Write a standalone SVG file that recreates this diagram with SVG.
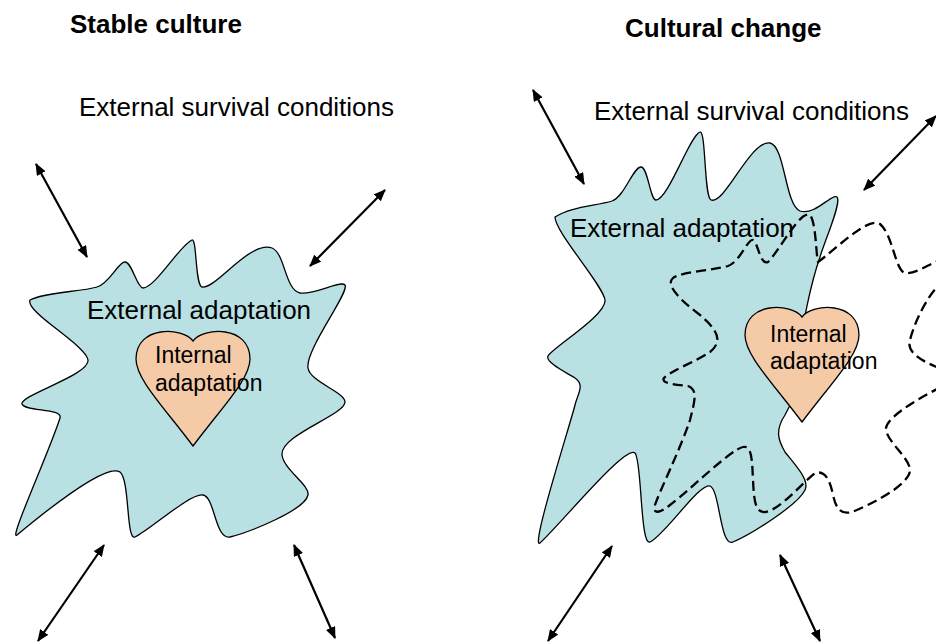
<svg xmlns="http://www.w3.org/2000/svg" width="936" height="642" viewBox="0 0 936 642">
<style>
.t{font-family:"Liberation Sans",Arial,sans-serif;fill:#000}
.title{font-size:26px;font-weight:bold}
.lbl{font-size:26px}
.small{font-size:23px}
.blob{fill:#B9E0E3;stroke:#000;stroke-width:1.3}
.heart{fill:#F5CAA6;stroke:#000;stroke-width:1.3}
.dash{fill:none;stroke:#000;stroke-width:2.3;stroke-dasharray:10,5}
.arr{stroke:#000;stroke-width:2.2;fill:none;marker-start:url(#ah);marker-end:url(#ah)}
</style>
<defs>
<marker id="ah" markerUnits="userSpaceOnUse" markerWidth="12" markerHeight="10" refX="11" refY="5" orient="auto-start-reverse" viewBox="0 0 12 10">
<path d="M0,0 L12,5 L0,10 Z" fill="#000"/>
</marker>
<path id="heartShape" d="M0,0 C-10,-14 -57,-16 -57,18 C-57,38 -30,65 0,105 C30,65 57,38 57,18 C57,-16 10,-14 0,0 Z"/>
</defs>
<rect width="936" height="642" fill="#fff"/>

<g id="stable-culture">
<text class="t title" x="70" y="33">Stable culture</text>
<text class="t lbl" x="79" y="116">External survival conditions</text>
</g>

<g id="left-external-adaptation">
<path class="blob" d="M30,300 C45,292 80,292 97,287 C110,283 118,262 125,262 C132,262 137,288 143,288 C155,288 180,245 192,240 C197,238 195,285 202,287 C215,290 250,240 272,248 C285,253 285,290 300,293 C315,295 340,280 345,285 C350,292 305,350 308,368 C310,382 345,392 345,402 C345,415 280,435 282,455 C284,470 310,485 308,495 C305,510 250,532 230,537 C215,540 215,497 203,495 C190,493 150,530 135,537 C126,541 130,480 120,472 C105,462 35,520 17,535 C8,542 50,450 60,418 C63,408 25,412 22,404 C20,395 90,375 88,360 C86,345 25,312 30,300 Z"/>
<text class="t lbl" x="87" y="319">External adaptation</text>
</g>

<g id="left-internal-adaptation">
<use href="#heartShape" class="heart" transform="translate(193,341)"/>
<text class="t small" x="155" y="363">Internal</text>
<text class="t small" x="155" y="391">adaptation</text>
</g>

<g id="cultural-change">
<text class="t title" x="625" y="37">Cultural change</text>
<text class="t lbl" x="594" y="120">External survival conditions</text>
</g>

<g id="right-external-adaptation">
<path class="blob" d="M555,217 C570,207 595,206 612,201 C625,196 633,167 641,167 C648,167 650,200 656,200 C668,200 690,135 700,132 C706,130 704,197 711,200 C725,205 750,140 770,143 C785,146 785,205 800,211 C815,216 832,193 837,197 C842,202 825,240 820,257 C812,280 800,330 800,360 C800,390 790,405 785,415 C775,430 778,440 785,452 C795,465 810,480 805,490 C798,505 750,535 733,542 C720,548 720,490 710,486 C700,482 665,535 650,542 C640,546 642,460 635,453 C625,445 560,525 540,543 C530,550 570,425 575,405 C578,393 585,385 575,378 C565,372 545,362 548,356 C552,348 607,315 605,300 C603,285 555,232 555,217 Z"/>
<text class="t lbl" x="570" y="237">External adaptation</text>
</g>

<g id="new-adaptation-dashed">
<path class="dash" d="M945,258 C930,263 915,275 905,273 C895,270 893,235 880,224 C868,216 835,250 818,262 C816,255 816,222 810,215 C800,210 780,250 768,262 C760,266 758,242 753,240 C748,238 740,262 728,266 C715,270 680,272 673,278 C665,285 680,300 700,315 C715,328 725,340 710,352 C695,362 672,370 664,378 C660,384 680,385 688,386 C698,390 695,400 690,420 C680,450 660,490 655,505 C652,515 660,513 670,505 C690,490 730,450 743,447 C752,445 752,460 753,480 C754,500 755,513 765,512 C780,510 800,485 815,473 C825,470 830,480 833,495 C836,508 840,515 852,512 C870,505 910,485 910,470 C910,458 885,440 886,428 C888,415 925,395 945,385 L950,385 L950,372 C930,365 905,355 910,340 C915,320 930,290 945,280 Z"/>
</g>

<g id="right-internal-adaptation">
<use href="#heartShape" class="heart" transform="translate(802,317)"/>
<text class="t small" x="770" y="342">Internal</text>
<text class="t small" x="770" y="369">adaptation</text>
</g>

<g id="connectors">
<line class="arr" x1="36" y1="164" x2="87" y2="257"/>
<line class="arr" x1="385" y1="190" x2="310" y2="266"/>
<line class="arr" x1="104" y1="545" x2="38" y2="641"/>
<line class="arr" x1="294" y1="545" x2="335" y2="638"/>
<line class="arr" x1="533" y1="90" x2="584" y2="184"/>
<line class="arr" x1="936" y1="116" x2="864" y2="190"/>
<line class="arr" x1="612" y1="546" x2="548" y2="641"/>
<line class="arr" x1="780" y1="555" x2="820" y2="641"/>
</g>
</svg>
